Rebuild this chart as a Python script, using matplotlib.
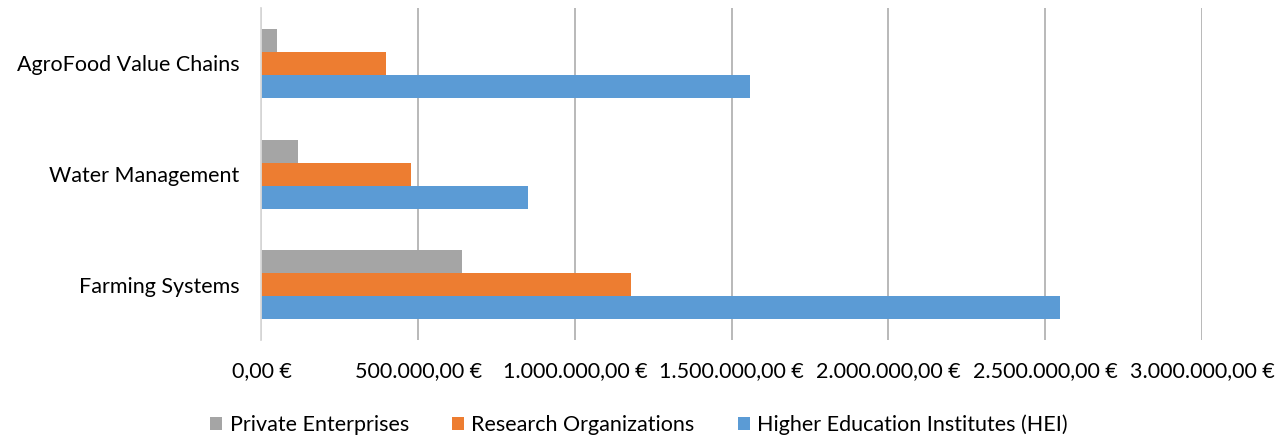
import matplotlib.pyplot as plt
import numpy as np
from matplotlib.ticker import FuncFormatter

# data
categories = ['Farming Systems', 'Water Management', 'AgroFood Value Chains']
series_names = ['Private Enterprises', 'Research Organizations', 'Higher Education Institutes (HEI)']
private = [641000, 118000, 48000]
research = [1178000, 476000, 396000]
hei = [2547000, 849000, 1559000]
xticks = [0, 500000, 1000000, 1500000, 2000000, 2500000, 3000000]

colors = ['#A5A5A5', '#ED7D31', '#5B9BD5']
plt.rcParams['font.family'] = ['Lato', 'DejaVu Sans']
fs = 15.5


def euro(v, pos=None):
    s = f"{v:,.2f}"
    s = s.replace(',', 'X').replace('.', ',').replace('X', '.')
    return s + ' €'


fig = plt.figure(figsize=(12.78, 4.37), dpi=100)
ax = fig.add_axes([0.2046, 0.222, 0.7359, 0.7595])

y = np.arange(len(categories))
h = 0.208
# HEI bottom, private top inside each group
for i, (vals, name) in enumerate(zip([private, research, hei], series_names)):
    ax.barh(y + (1 - i) * h, vals, height=h, color=colors[i], label=name, zorder=3)

ax.set_xlim(0, 3000000)
ax.set_ylim(-0.5, len(categories) - 0.5)
ax.set_xticks(xticks)
ax.xaxis.set_major_formatter(FuncFormatter(euro))
ax.set_yticks(y)
ax.set_yticklabels(categories)
ax.grid(axis='x', color='#B3B3B3', linewidth=1.3, zorder=0)
ax.grid(axis='y', visible=False)
for s in ['top', 'right', 'bottom']:
    ax.spines[s].set_visible(False)
ax.spines['left'].set_color('#D9D9D9')
ax.spines['left'].set_linewidth(1.3)
ax.spines['left'].set_zorder(4)
ax.tick_params(axis='both', length=0, labelsize=fs, colors='#000000')
ax.tick_params(axis='x', pad=15)
ax.tick_params(axis='y', pad=16)

handles, labels = ax.get_legend_handles_labels()
fig.legend(handles, labels, loc='center', bbox_to_anchor=(0.5, 0.028), ncol=3,
           frameon=False, fontsize=fs, handlelength=0.55, handleheight=0.55,
           handletextpad=0.35, columnspacing=2.0)

fig.savefig('out.png', dpi=100)
